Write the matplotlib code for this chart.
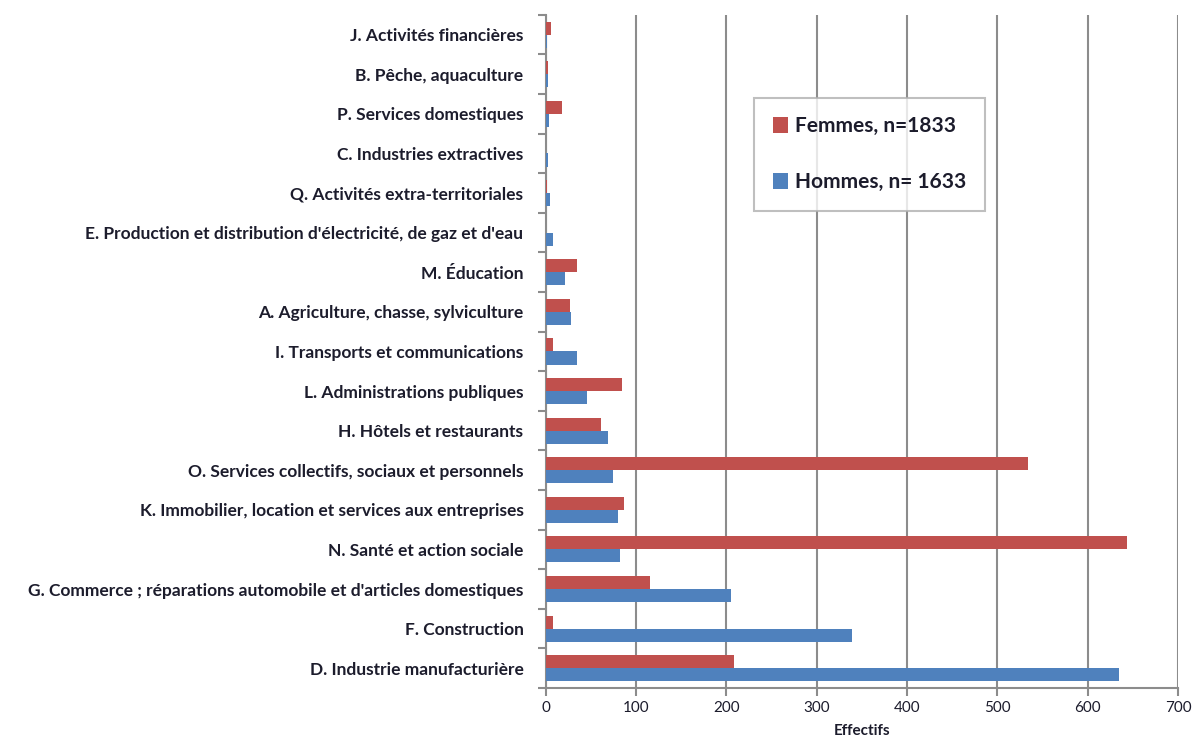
import numpy as np
import matplotlib.pyplot as plt

# secteurs, du bas vers le haut
secteurs = [
    "D. Industrie manufacturière",
    "F. Construction",
    "G. Commerce ; réparations automobile et d'articles domestiques",
    "N. Santé et action sociale",
    "K. Immobilier, location et services aux entreprises",
    "O. Services collectifs, sociaux et personnels",
    "H. Hôtels et restaurants",
    "L. Administrations publiques",
    "I. Transports et communications",
    "A. Agriculture, chasse, sylviculture",
    "M. Éducation",
    "E. Production et distribution d'électricité, de gaz et d'eau",
    "Q. Activités extra-territoriales",
    "C. Industries extractives",
    "P. Services domestiques",
    "B. Pêche, aquaculture",
    "J. Activités financières",
]
femmes = [208, 8, 116, 644, 87, 534, 61, 85, 8, 27, 35, 0, 1, 0, 18, 2, 6]
hommes = [635, 339, 205, 82, 80, 74, 69, 46, 35, 28, 21, 8, 5, 3, 4, 3, 1]

plt.rcParams['font.family'] = ['Lato', 'DejaVu Sans']
txt = '#1c1c2c'
grid_col = '#8c8c8c'

fig = plt.figure(figsize=(12.02, 7.45), dpi=100)
ax = fig.add_axes([0.454, 0.0765, 0.526, 0.9035])

y = np.arange(len(secteurs))
h = 0.33
ax.barh(y + h / 2, femmes, height=h, color='#c0504d', label='Femmes, n=1833', zorder=3)
ax.barh(y - h / 2, hommes, height=h, color='#4f81bd', label='Hommes, n= 1633', zorder=3)

ax.set_xlim(0, 700)
ax.set_ylim(-0.5, len(secteurs) - 0.5)
ax.set_xticks(np.arange(0, 701, 100))
ax.set_yticks(y)
ax.set_yticklabels(secteurs, fontsize=12.5, fontweight='bold', color=txt)
ax.set_yticks(np.arange(-0.5, len(secteurs), 1), minor=True)
ax.tick_params(axis='y', which='major', length=0, pad=16)
ax.tick_params(axis='y', which='minor', length=6, color=grid_col, width=1.5, direction='out')
ax.tick_params(axis='x', length=6, color=grid_col, width=1.5, labelsize=11, labelcolor=txt)
ax.xaxis.grid(True, color=grid_col, linewidth=1.5, zorder=0)
ax.set_axisbelow(True)

for s in ['top', 'right']:
    ax.spines[s].set_visible(False)
for s in ['left', 'bottom']:
    ax.spines[s].set_color(grid_col)
    ax.spines[s].set_linewidth(1.5)

ax.set_xlabel('Effectifs', fontsize=11, fontweight='bold', color=txt, labelpad=6)

leg = ax.legend(loc='upper left', bbox_to_anchor=(0.330, 0.877),
                prop={'weight': 'bold', 'size': 15}, frameon=True, fancybox=False,
                handlelength=0.7, handleheight=0.8, handletextpad=0.35,
                labelspacing=1.7, borderpad=0.9, borderaxespad=0)
leg.get_frame().set_edgecolor('#b0b0b0')
leg.get_frame().set_linewidth(1.5)
for t in leg.get_texts():
    t.set_color(txt)

fig.savefig('out.png', dpi=100)
